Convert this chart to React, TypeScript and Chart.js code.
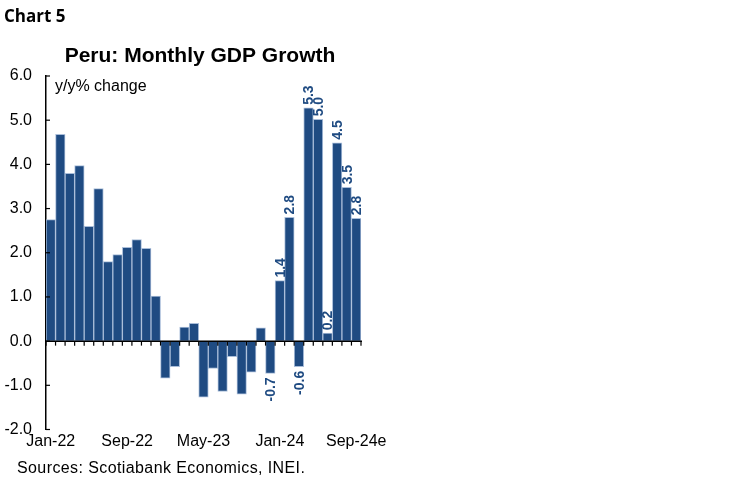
import React, { useEffect, useRef } from "react";
import { Chart, registerables } from "chart.js";

Chart.register(...registerables);

const categories = [
  "Jan-22", "Feb-22", "Mar-22", "Apr-22", "May-22", "Jun-22", "Jul-22", "Aug-22", "Sep-22", "Oct-22", "Nov-22", "Dec-22",
  "Jan-23", "Feb-23", "Mar-23", "Apr-23", "May-23", "Jun-23", "Jul-23", "Aug-23", "Sep-23", "Oct-23", "Nov-23", "Dec-23",
  "Jan-24", "Feb-24", "Mar-24", "Apr-24", "May-24", "Jun-24", "Jul-24", "Aug-24", "Sep-24e",
];

const gdpGrowth = [
  2.75, 4.68, 3.8, 3.97, 2.6, 3.45, 1.8, 1.96, 2.12, 2.3, 2.1, 1.02,
  -0.84, -0.58, 0.32, 0.4, -1.27, -0.62, -1.14, -0.35, -1.2, -0.7, 0.3, -0.73,
  1.37, 2.8, -0.58, 5.28, 5.02, 0.18, 4.49, 3.48, 2.78,
];

// indices whose values are printed as data labels
const labeledIndices = [23, 24, 25, 26, 27, 28, 29, 30, 31, 32];

const yTicks = [-2, -1, 0, 1, 2, 3, 4, 5, 6];
const labelEvery = 8;

const chartLabel = "Chart 5";
const titleText = "Peru: Monthly GDP Growth";
const unitText = "y/y% change";
const sourceText = "Sources: Scotiabank Economics, INEI.";

const BAR = "#1F4B82";
const FONT = "'Liberation Sans', Arial, sans-serif";

export default function App() {
  const ref = useRef<HTMLCanvasElement | null>(null);

  useEffect(() => {
    if (!ref.current) return;

    const overlay = {
      id: "overlay",
      afterDatasetsDraw(chart: any) {
        const { ctx, chartArea, scales } = chart;
        const x = scales.x;
        const y = scales.y;
        const y0 = y.getPixelForValue(0);
        const n = categories.length;
        const step = n > 1 ? x.getPixelForValue(1) - x.getPixelForValue(0) : chartArea.width;
        ctx.save();
        ctx.strokeStyle = "#000";
        ctx.lineWidth = 1.5;
        // zero line
        ctx.beginPath();
        ctx.moveTo(chartArea.left, y0);
        ctx.lineTo(chartArea.right + 1, y0);
        ctx.stroke();
        // category boundary ticks
        ctx.lineWidth = 1.2;
        for (let i = 0; i <= n; i++) {
          const bx = x.getPixelForValue(0) - step / 2 + i * step;
          ctx.beginPath();
          ctx.moveTo(bx, y0);
          ctx.lineTo(bx, y0 + 4.5);
          ctx.stroke();
        }
        // y ticks pointing inward
        yTicks.forEach((v) => {
          const py = y.getPixelForValue(v);
          ctx.beginPath();
          ctx.moveTo(chartArea.left, py);
          ctx.lineTo(chartArea.left + 4, py);
          ctx.stroke();
        });
        // data labels
        ctx.fillStyle = BAR;
        ctx.font = `bold 14px ${FONT}`;
        ctx.textBaseline = "middle";
        labeledIndices.forEach((i) => {
          const v = gdpGrowth[i];
          const px = x.getPixelForValue(i);
          const py = y.getPixelForValue(v);
          ctx.save();
          ctx.translate(px, v >= 0 ? py - 3 : py + 4);
          ctx.rotate(-Math.PI / 2);
          ctx.textAlign = v >= 0 ? "left" : "right";
          ctx.fillText(v.toFixed(1), 0, 1);
          ctx.restore();
        });
        ctx.restore();
      },
      afterDraw(chart: any) {
        const { ctx } = chart;
        ctx.save();
        ctx.fillStyle = "#000";
        ctx.textBaseline = "alphabetic";
        ctx.textAlign = "left";
        ctx.font = `bold 17px 'Open Sans', sans-serif`;
        ctx.fillText(chartLabel, 4, 22);
        ctx.font = `bold 21px ${FONT}`;
        ctx.textAlign = "center";
        ctx.fillText(titleText, 200, 62);
        ctx.textAlign = "left";
        ctx.font = `16px ${FONT}`;
        ctx.fillText(unitText, 55, 91);
        (ctx as any).letterSpacing = "0.4px";
        ctx.fillText(sourceText, 17, 473);
        ctx.restore();
      },
    };

    const chart = new Chart(ref.current, {
      type: "bar",
      data: {
        labels: categories,
        datasets: [
          {
            data: gdpGrowth,
            backgroundColor: BAR,
            borderColor: "#A9BDD9",
            borderWidth: 1,
            borderSkipped: false,
            barPercentage: 1,
            categoryPercentage: 1,
          },
        ],
      },
      options: {
        responsive: false,
        animation: false,
        devicePixelRatio: 1,
        layout: { padding: { left: 0, top: 76, right: 387, bottom: 0 } },
        plugins: {
          legend: { display: false },
          tooltip: { enabled: false },
          title: { display: false },
        },
        scales: {
          x: {
            type: "category",
            grid: { display: false, drawTicks: false },
            border: { display: false },
            ticks: {
              autoSkip: false,
              maxRotation: 0,
              minRotation: 0,
              padding: 2,
              color: "#000",
              font: { family: FONT, size: 16 },
              callback: (_v: any, i: number) => (i % labelEvery === 0 ? categories[i] : ""),
            },
            afterFit: (s: any) => {
              s.height = 53.5;
            },
          },
          y: {
            min: -2,
            max: 6,
            grid: { display: false, drawTicks: false },
            border: { display: true, color: "#000", width: 1.5 },
            ticks: {
              stepSize: 1,
              padding: 14,
              color: "#000",
              font: { family: FONT, size: 16 },
              callback: (v: any) => Number(v).toFixed(1),
            },
            afterFit: (s: any) => {
              s.width = 46;
            },
          },
        },
      },
      plugins: [overlay],
    } as any);

    return () => chart.destroy();
  }, []);

  return (
    <div style={{ position: "absolute", left: 0, top: 0, width: 748, height: 483, background: "#fff" }}>
      <canvas ref={ref} width={748} height={483} style={{ display: "block", width: 748, height: 483 }} />
    </div>
  );
}
